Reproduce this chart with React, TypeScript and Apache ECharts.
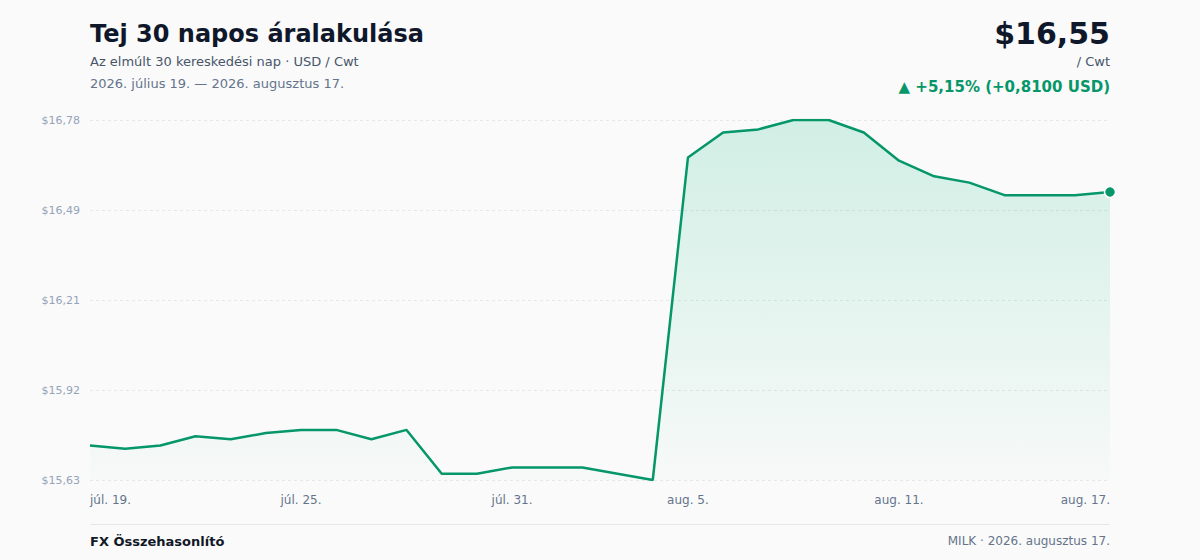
import React, { useEffect, useRef } from "react";
import * as echarts from "echarts";

const dates = [
  "júl. 19.", "júl. 20.", "júl. 21.", "júl. 22.", "júl. 23.", "júl. 24.",
  "júl. 25.", "júl. 26.", "júl. 27.", "júl. 28.", "júl. 29.", "júl. 30.",
  "júl. 31.", "aug. 1.", "aug. 2.", "aug. 3.", "aug. 4.", "aug. 5.",
  "aug. 6.", "aug. 7.", "aug. 8.", "aug. 9.", "aug. 10.", "aug. 11.",
  "aug. 12.", "aug. 13.", "aug. 14.", "aug. 15.", "aug. 16.", "aug. 17.",
];

const prices = [
  15.74, 15.73, 15.74, 15.77, 15.76, 15.78, 15.79, 15.79, 15.76, 15.79,
  15.65, 15.65, 15.67, 15.67, 15.67, 15.65, 15.63, 16.66, 16.74, 16.75,
  16.78, 16.78, 16.74, 16.65, 16.60, 16.58, 16.54, 16.54, 16.54, 16.55,
];

const shownLabelIndices = [0, 6, 12, 17, 23, 29];

const yMin = 15.63;
const yMax = 16.78;
const ySteps = 4;

const GREEN = "#059669";
const FONT = "'DejaVu Sans', sans-serif";

const fmt = (v: number) => "$" + (v + 1e-9).toFixed(2).replace(".", ",");

export default function App() {
  const ref = useRef<HTMLDivElement>(null);

  useEffect(() => {
    document.body.style.margin = "0";
    const chart = echarts.init(ref.current!, null, { renderer: "svg" });
    const first = prices[0];
    const last = prices[prices.length - 1];
    const diff = last - first;
    const pct = (diff / first) * 100;
    const span = yMax - yMin;
    const offsetData = prices.map((p) => +(p - yMin).toFixed(6));

    chart.setOption({
      animation: false,
      backgroundColor: "#fafafa",
      textStyle: { fontFamily: FONT },
      grid: { left: 90, right: 90, top: 120, bottom: 80, containLabel: false },
      xAxis: {
        type: "category",
        data: dates,
        boundaryGap: false,
        axisLine: { show: false },
        axisTick: { show: false },
        splitLine: { show: false },
        axisLabel: {
          interval: (i: number) => shownLabelIndices.includes(i),
          color: "#64748b",
          fontSize: 12,
          fontFamily: FONT,
          margin: 14,
          alignMinLabel: "left",
          alignMaxLabel: "right",
        },
      },
      yAxis: {
        type: "value",
        min: 0,
        max: span,
        interval: span / ySteps,
        axisLine: { show: false },
        axisTick: { show: false },
        axisLabel: {
          color: "#94a3b8",
          fontSize: 11,
          fontFamily: FONT,
          margin: 10,
          formatter: (v: number) => fmt(v + yMin),
        },
        splitLine: {
          show: true,
          lineStyle: { color: "#e5e7eb", type: [3, 3], width: 1 },
        },
      },
      series: [
        {
          type: "line",
          data: offsetData,
          showSymbol: false,
          symbol: "none",
          lineStyle: { color: GREEN, width: 2.5 },
          itemStyle: { color: GREEN },
          areaStyle: {
            color: new echarts.graphic.LinearGradient(0, 0, 0, 1, [
              { offset: 0, color: "rgba(16,185,129,0.25)" },
              { offset: 1, color: "rgba(16,185,129,0.02)" },
            ]),
          },
          z: 2,
        },
        {
          type: "scatter",
          data: [[dates[dates.length - 1], offsetData[offsetData.length - 1]]],
          symbol: "circle",
          symbolSize: 11,
          itemStyle: { color: GREEN, opacity: 1, borderColor: "#ffffff", borderWidth: 1.5 },
          z: 3,
        },
      ],
      graphic: [
        {
          type: "text",
          x: 90,
          y: 34,
          style: {
            text: "Tej 30 napos áralakulása",
            fill: "#0f172a",
            font: `bold 24px ${FONT}`,
            align: "left",
            verticalAlign: "middle",
          },
        },
        {
          type: "text",
          x: 90,
          y: 61,
          style: {
            text: "Az elmúlt 30 kereskedési nap · USD / Cwt",
            fill: "#475569",
            font: `13px ${FONT}`,
            align: "left",
            verticalAlign: "middle",
          },
        },
        {
          type: "text",
          x: 90,
          y: 83,
          style: {
            text: "2026. július 19. — 2026. augusztus 17.",
            fill: "#64748b",
            font: `13px ${FONT}`,
            align: "left",
            verticalAlign: "middle",
          },
        },
        {
          type: "text",
          x: 1110,
          y: 33,
          style: {
            text: fmt(last),
            fill: "#0f172a",
            font: `bold 30px ${FONT}`,
            align: "right",
            verticalAlign: "middle",
          },
        },
        {
          type: "text",
          x: 1110,
          y: 61,
          style: {
            text: "/ Cwt",
            fill: "#475569",
            font: `13px ${FONT}`,
            align: "right",
            verticalAlign: "middle",
          },
        },
        {
          type: "text",
          x: 1110,
          y: 87,
          style: {
            text:
              "▲ +" +
              pct.toFixed(2).replace(".", ",") +
              "% (+" +
              diff.toFixed(4).replace(".", ",") +
              " USD)",
            fill: GREEN,
            font: `bold 15px ${FONT}`,
            align: "right",
            verticalAlign: "middle",
          },
        },
        {
          type: "line",
          shape: { x1: 90, y1: 524.5, x2: 1110, y2: 524.5 },
          style: { stroke: "#e5e7eb", lineWidth: 1 },
        },
        {
          type: "text",
          x: 90,
          y: 541,
          style: {
            text: "FX Összehasonlító",
            fill: "#111827",
            font: `bold 13px ${FONT}`,
            align: "left",
            verticalAlign: "middle",
          },
        },
        {
          type: "text",
          x: 1110,
          y: 541,
          style: {
            text: "MILK · 2026. augusztus 17.",
            fill: "#64748b",
            font: `12px ${FONT}`,
            align: "right",
            verticalAlign: "middle",
          },
        },
      ],
    });
    return () => chart.dispose();
  }, []);

  return (
    <div style={{ width: 1200, height: 560, background: "#fafafa" }}>
      <div ref={ref} style={{ width: 1200, height: 560 }} />
    </div>
  );
}
